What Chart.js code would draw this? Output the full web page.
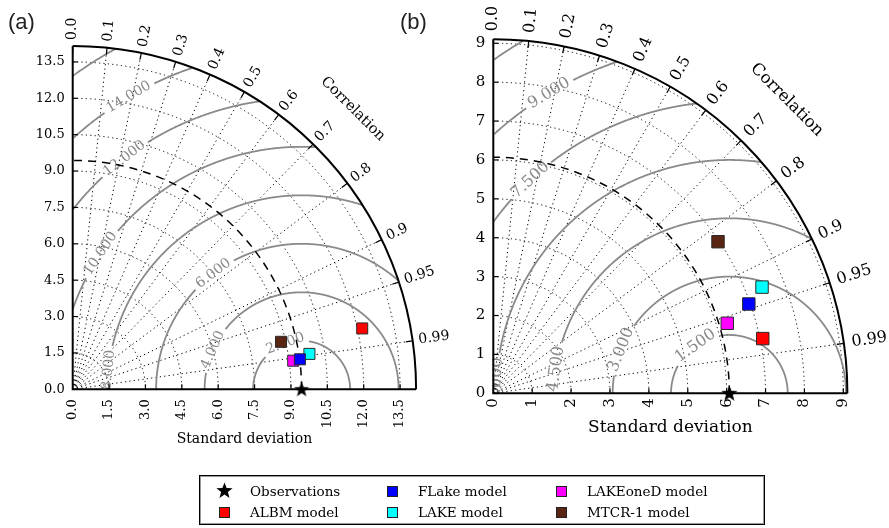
<!DOCTYPE html>
<html><head><meta charset="utf-8">
<script src="https://cdn.jsdelivr.net/npm/chart.js@4"></script>
<style>
html,body{margin:0;padding:0;background:#fff;width:889px;height:528px;overflow:hidden;position:relative;}
canvas.chart{position:absolute;left:0;top:0;}
#legend{position:absolute;left:199px;top:475px;width:566px;height:50px;border:1.5px solid #000;box-shadow:inset 0 0 0 1px #999;box-sizing:border-box;font-family:"DejaVu Serif",serif;font-size:13.5px;color:#000;}
.li{position:absolute;white-space:nowrap;}
.mk{position:absolute;width:11px;height:11px;border:1px solid #222;box-sizing:border-box;}
.panel{position:absolute;font-family:"Liberation Sans",Arial,sans-serif;font-size:22px;color:#222;}
</style></head><body>
<canvas id="ca" class="chart" width="889" height="528"></canvas>
<canvas id="cb" class="chart" width="889" height="528"></canvas>
<div class="panel" style="left:8px;top:9px;">(a)</div>
<div class="panel" style="left:400px;top:9px;">(b)</div>
<div id="legend"></div>
<script>
// ---------------- data ----------------
const seriesNames  = ['Observations','ALBM model','FLake model','LAKE model','LAKEoneD model','MTCR-1 model'];
const seriesColors = ['#000000','#ff0000','#0000ff','#00ffff','#ff00ff','#5a2412'];
// panel (a)
const refStdA = 9.44;
const stdA  = [9.44, 12.20, 9.45, 9.87, 9.17, 8.81];
const corrA = [1.0, 0.9786, 0.9914, 0.989, 0.9917, 0.975];
// panel (b)
const refStdB = 6.07;
const stdB  = [6.07, 7.07, 6.96, 7.43, 6.28, 6.97];
const corrB = [1.0, 0.980, 0.944, 0.930, 0.958, 0.829];
// ticks
const corrTicks      = [0,0.1,0.2,0.3,0.4,0.5,0.6,0.7,0.8,0.9,0.95,0.99];
const corrTickLabels = ['0.0','0.1','0.2','0.3','0.4','0.5','0.6','0.7','0.8','0.9','0.95','0.99'];
const stdTicksA      = [0,1.5,3,4.5,6,7.5,9,10.5,12,13.5];
const stdTickLabelsA = ['0.0','1.5','3.0','4.5','6.0','7.5','9.0','10.5','12.0','13.5'];
const stdTicksB      = [0,1,2,3,4,5,6,7,8,9];
const stdTickLabelsB = ['0','1','2','3','4','5','6','7','8','9'];
// centred RMS difference contours
const rmsLevelsA = [2,4,6,8,10,12,14,16];
const rmsLabelsA = ['2.000','4.000','6.000','8.000','10.000','12.000','14.000',''];
const rmsLevelsB = [1.5,3,4.5,6,7.5,9,10.5];
const rmsLabelsB = ['1.500','3.000','4.500','6.000','7.500','9.000',''];

// ---------------- layout ----------------
const W = 889, H = 528;
const panelA = {
  id:'a', ref:refStdA, std:stdA, corr:corrA, ticks:stdTicksA, tickLabels:stdTickLabelsA,
  levels:rmsLevelsA, levelLabels:rmsLabelsA, labelPhi:[109.7,156,127.3,174.3,146,127.5,120.6,0],
  ox:72.7, oy:389.3, ppu:24.25,
  tickFont:13, corrFont:14, titleFont:14.5, xlabFont:14, contFont:14,
  ylabGap:8, xlabGap:10, corrGap:6, corrTitleGap:53, xTitleY:439,
  sq:7.8, star:16
};
const panelB = {
  id:'b', ref:refStdB, std:stdB, corr:corrB, ticks:stdTicksB, tickLabels:stdTickLabelsB,
  levels:rmsLevelsB, levelLabels:rmsLabelsB, labelPhi:[125.5,158,172,176.8,133,121,0],
  ox:493.3, oy:393.3, ppu:38.89,
  tickFont:15, corrFont:16, titleFont:16.5, xlabFont:17, contFont:16,
  ylabGap:8, xlabGap:5, corrGap:8, corrTitleGap:61, xTitleY:428,
  sq:8.8, star:17
};

function makeStar(size, color){
  const c = document.createElement('canvas');
  c.width = size; c.height = size;
  const g = c.getContext('2d');
  const R = size/2, r = R*0.42;
  g.beginPath();
  for(let i=0;i<10;i++){
    const a = -Math.PI/2 + i*Math.PI/5;
    const rr = i%2===0 ? R : r;
    const px = R + rr*Math.cos(a), py = R + 0.5 + rr*Math.sin(a);
    i===0 ? g.moveTo(px,py) : g.lineTo(px,py);
  }
  g.closePath(); g.fillStyle = color; g.fill();
  return c;
}

function taylorPlugin(P){
  return {
    id:'taylor_'+P.id,
    beforeDatasetsDraw(chart){
      const ctx = chart.ctx, ca = chart.chartArea;
      const xs = chart.scales.x, ys = chart.scales.y;
      const X = v=>xs.getPixelForValue(v), Y = v=>ys.getPixelForValue(v);
      const ox = X(0), oy = Y(0);
      const ppu = X(1)-X(0);
      const smax = 1.5*P.ref;
      const pt = (r,th)=>[X(r*Math.cos(th)), Y(r*Math.sin(th))];
      const serif = '"DejaVu Serif", serif';
      ctx.save();
      // clip to chart area
      ctx.beginPath(); ctx.rect(ca.left-1, ca.top-1, ca.right-ca.left+2, ca.bottom-ca.top+2); ctx.clip();

      // dotted grid: radial lines
      ctx.strokeStyle = '#000'; ctx.lineWidth = 1; ctx.setLineDash([1.2,3.2]);
      corrTicks.forEach(c=>{
        if(c<=0||c>=1) return;
        const th = Math.acos(c);
        const e = pt(smax, th);
        ctx.beginPath(); ctx.moveTo(ox,oy); ctx.lineTo(e[0],e[1]); ctx.stroke();
      });
      // dotted grid: std arcs
      P.ticks.forEach(s=>{
        if(s<=0||s>=smax) return;
        ctx.beginPath();
        ctx.arc(ox, oy, s*ppu, -Math.PI/2, 0);
        ctx.stroke();
      });
      ctx.setLineDash([]);

      // RMS contours
      const grey = '#8a8a8a';
      ctx.strokeStyle = grey; ctx.lineWidth = 1.8;
      ctx.font = P.contFont+'px '+serif;
      P.levels.forEach((c,i)=>{
        const lab = P.levelLabels[i];
        let gap = null;
        if(lab){
          const w = ctx.measureText(lab).width;
          const phi = P.labelPhi[i]*Math.PI/180;
          const hg = (w/2+4)/(c*ppu);
          gap = [phi-hg, phi+hg];
        }
        const N = 1400;
        let drawing=false;
        ctx.beginPath();
        for(let k=0;k<=N;k++){
          const f = Math.PI*k/N;
          const dx = P.ref + c*Math.cos(f), dy = c*Math.sin(f);
          const inside = dx>=0 && dy>=0 && (dx*dx+dy*dy)<=smax*smax && !(gap && f>gap[0] && f<gap[1]);
          if(inside){
            if(!drawing){ ctx.moveTo(X(dx),Y(dy)); drawing=true; }
            else ctx.lineTo(X(dx),Y(dy));
          } else drawing=false;
        }
        ctx.stroke();
        if(lab){
          const phi = P.labelPhi[i]*Math.PI/180;
          const lx = P.ref + c*Math.cos(phi), ly = c*Math.sin(phi);
          ctx.save();
          ctx.translate(X(lx), Y(ly));
          ctx.rotate(Math.atan2(Math.cos(phi), Math.sin(phi)));
          ctx.fillStyle = grey; ctx.textAlign='center'; ctx.textBaseline='middle';
          ctx.fillText(lab, 0, 0);
          ctx.restore();
        }
      });
      ctx.restore();

      // reference std dashed arc
      ctx.save();
      ctx.strokeStyle='#000'; ctx.lineWidth=1.5; ctx.setLineDash([8,6]);
      ctx.beginPath(); ctx.arc(ox, oy, P.ref*ppu, 0, -Math.PI/2, true); ctx.stroke();
      ctx.setLineDash([]);

      // outer arc + axes
      ctx.lineWidth = 2;
      ctx.beginPath(); ctx.arc(ox, oy, smax*ppu, -Math.PI/2, 0); ctx.stroke();
      ctx.beginPath(); ctx.moveTo(ox, Y(smax)); ctx.lineTo(ox, oy); ctx.lineTo(X(smax), oy); ctx.stroke();

      // ticks
      ctx.lineWidth = 1.2;
      P.ticks.forEach(s=>{
        ctx.beginPath(); ctx.moveTo(ox, Y(s)); ctx.lineTo(ox+5, Y(s)); ctx.stroke();
        ctx.beginPath(); ctx.moveTo(X(s), oy); ctx.lineTo(X(s), oy-5); ctx.stroke();
      });
      corrTicks.forEach(c=>{
        const th = Math.acos(c);
        const a = pt(smax, th), b = pt(smax-7/ppu, th);
        ctx.beginPath(); ctx.moveTo(a[0],a[1]); ctx.lineTo(b[0],b[1]); ctx.stroke();
      });

      // tick labels
      ctx.fillStyle='#000';
      ctx.font = P.tickFont+'px '+serif;
      ctx.textAlign='right'; ctx.textBaseline='middle';
      P.ticks.forEach((s,i)=>{ ctx.fillText(P.tickLabels[i], ox-P.ylabGap, Y(s)); });
      P.ticks.forEach((s,i)=>{
        ctx.save(); ctx.translate(X(s), oy+P.xlabGap); ctx.rotate(-Math.PI/2);
        ctx.textAlign='right'; ctx.textBaseline='middle';
        ctx.fillText(P.tickLabels[i], 0, 0); ctx.restore();
      });
      // correlation labels
      ctx.font = P.corrFont+'px '+serif;
      corrTicks.forEach((c,i)=>{
        const th = Math.acos(c);
        const p = pt(smax + P.corrGap/ppu, th);
        ctx.save(); ctx.translate(p[0],p[1]); ctx.rotate(-th);
        ctx.textAlign='left'; ctx.textBaseline='middle';
        ctx.fillText(corrTickLabels[i],0,0); ctx.restore();
      });
      // axis titles
      ctx.font = P.titleFont+'px '+serif;
      const tp = pt(smax + P.corrTitleGap/ppu, Math.PI/4);
      ctx.save(); ctx.translate(tp[0],tp[1]); ctx.rotate(Math.PI/4);
      ctx.textAlign='center'; ctx.textBaseline='middle';
      ctx.fillText('Correlation',0,0); ctx.restore();
      ctx.font = P.xlabFont+'px '+serif;
      ctx.textAlign='center'; ctx.textBaseline='middle';
      ctx.fillText('Standard deviation', X(smax/2), P.xTitleY);
      ctx.restore();
    }
  };
}

function buildChart(canvasId, P){
  const smax = 1.5*P.ref;
  const span = smax*P.ppu;
  const datasets = seriesNames.map((name,i)=>{
    const s = P.std[i], c = P.corr[i];
    const isObs = i===0;
    return {
      label: name,
      data: [{x: s*c, y: s*Math.sqrt(Math.max(0,1-c*c))}],
      pointStyle: isObs ? makeStar(P.star, '#000') : 'rect',
      pointRadius: isObs ? P.star/2 : P.sq,
      backgroundColor: seriesColors[i],
      borderColor: '#2a2a2a',
      borderWidth: isObs ? 0 : 1,
      clip: false
    };
  });
  // draw observations last (on top)
  datasets.forEach((d,i)=>{ d.order = i===0 ? -1 : 0; });
  return new Chart(document.getElementById(canvasId), {
    type:'scatter',
    data:{datasets},
    options:{
      responsive:false, animation:false, devicePixelRatio:1, events:[],
      layout:{padding:{left:P.ox, top:P.oy-span, right:W-(P.ox+span), bottom:H-P.oy}},
      plugins:{legend:{display:false}, tooltip:{enabled:false}},
      scales:{
        x:{type:'linear', min:0, max:smax, display:false},
        y:{type:'linear', min:0, max:smax, display:false}
      }
    },
    plugins:[taylorPlugin(P)]
  });
}
buildChart('ca', panelA);
buildChart('cb', panelB);

// legend (3 columns, column-major like the original)
const leg = document.getElementById('legend');
const colX = [24, 192, 361];   // marker centre x inside box
const rowY = [15, 36];
seriesNames.forEach((name,i)=>{
  const col = Math.floor(i/2), row = i%2;
  const cx = colX[col], cy = rowY[row];
  if(i===0){
    const st = makeStar(17,'#000'); st.style.position='absolute';
    st.style.left=(cx-8.5)+'px'; st.style.top=(cy-9)+'px'; leg.appendChild(st);
  } else {
    const m = document.createElement('div'); m.className='mk';
    m.style.left=(cx-5.5)+'px'; m.style.top=(cy-5.5)+'px'; m.style.background=seriesColors[i];
    leg.appendChild(m);
  }
  const t = document.createElement('div'); t.className='li'; t.textContent=name;
  t.style.left=(cx+26)+'px'; t.style.top=(cy-9)+'px'; t.style.lineHeight='18px';
  leg.appendChild(t);
});
</script>
</body></html>
